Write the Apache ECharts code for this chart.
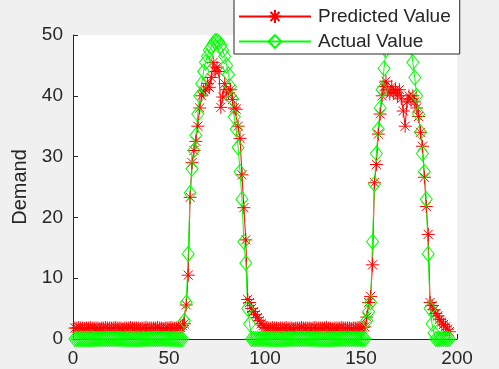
<!DOCTYPE html>
<html>
<head>
<meta charset="utf-8">
<script src="https://cdn.jsdelivr.net/npm/echarts@6/dist/echarts.min.js"></script>
<style>
  html, body { margin: 0; padding: 0; background: #f0f0f0; }
  #chart { width: 499px; height: 369px; }
</style>
</head>
<body>
<div id="chart"></div>
<script>
// x = 1..196, one value per sample
var actualValue = [
  0,0,0,0,0,0,0,0,0,0, 0,0,0,0,0,0,0,0,0,0, 0,0,0,0,0,0,0,0,0,0,
  0,0,0,0,0,0,0,0,0,0, 0,0,0,0,0,0,0,0,0,0, 0,0,0,0,0,0,0,
  3,6,14,24,28,31,33.5,37,40,42, 44,45.5,46.5,47.5,48,48.5,49,49,48.8,48.3,
  47.5,46.5,45,43.5,41.5,39.5,36.5,34.5,31.5,27.5, 23,16,12.5,5,2.5,0,
  0,0,0,0,0,0,0,0,0,0, 0,0,0,0,0,0,0,0,0,0, 0,0,0,0,0,0,0,0,0,0,
  0,0,0,0,0,0,0,0,0,0, 0,0,0,0,0,0,0,0,0,0, 0,0,0,0,0,0,0,0,
  0,3,4.5,6,16,25.5,30.5,34.5,38,41, 44.5,47.5,50,52.5,54.5,56,57,57.5,57.5,57,
  56,54.5,52.5,50.5,48,45.5,43,40,37,34, 30.5,27.5,23,14,5,2.5,1,0,
  0,0,0,0,0,0,0
];
var predictedValue = [
  1.8,1.8,1.9,1.8,1.8,1.7,1.8,1.8,1.9,1.8, 1.8,1.8,1.8,1.7,1.8,1.8,1.9,1.8,1.8,1.8,
  1.8,1.9,1.8,1.8,1.8,1.7,1.8,1.8,1.8,1.9, 1.8,1.8,1.8,1.8,1.7,1.8,1.8,1.9,1.8,1.8,
  1.8,1.8,1.8,1.9,1.8,1.8,1.7,1.8,1.8,1.8, 1.9,1.8,1.8,1.8,1.8,1.9,2.2,
  2.5,5.6,10.5,23.3,29,31,32.5,35,38,40, 40.8,41,42,41.4,43,45.5,44,44.7,44,38.1,
  39.8,42,41,40.5,41,39.4,38,37.8,35,33, 27,21.6,16.3,6.5,6,5,4.5,4,3.5,3, 2.5,
  2.2,1.9,1.8,1.8,1.8,1.9,1.8,1.8,1.7,1.8, 1.8,1.8,1.9,1.8,1.8,1.8,1.7,1.8,1.8,1.8,
  1.9,1.8,1.8,1.8,1.8,1.7,1.8,1.9,1.8,1.8, 1.8,1.8,1.8,1.9,1.8,1.8,1.7,1.8,1.8,1.8,
  1.8,1.9,1.8,1.8,1.8,1.8,1.7,1.8,1.8,1.8, 1.9,1.8,1.9,
  2,3.6,6,7,12.2,25.7,28.7,33.7,37,40, 41.5,42.4,41,40.3,41.5,40.5,41,40,41,39.5,
  37.5,35,39,40,39.5,40,39,38,36.6,34, 31.7,26.6,21.8,17.2,6,5.5,4.8,4.2,3.8,3.2,
  2.8,2.4,2,1.6,1.2
];
var xTicks = { min: 0, max: 200, step: 50 };
var yTicks = { min: 0, max: 50, step: 10 };

var font = 'Liberation Sans, Arial, Helvetica, sans-serif';
var ink = '#262626';
var asterisk = 'path://M0,5L10,5M5,0L5,10M1.5,1.5L8.5,8.5M8.5,1.5L1.5,8.5';
var diamond = 'path://M5,0L10,7L5,14L0,7Z';

function pairs(arr) {
  return arr.map(function (v, i) { return [i + 1, v]; });
}

var chart = echarts.init(document.getElementById('chart'));
var option = {
  backgroundColor: '#f0f0f0',
  animation: false,
  grid: {
    left: 73, right: 42, top: 35, bottom: 30,
    show: true, backgroundColor: '#ffffff', borderWidth: 0,
    outerBoundsMode: 'none'
  },
  legend: {
    orient: 'vertical',
    left: 234,
    top: -4,
    padding: [11, 9, 3, 4],
    itemWidth: 72,
    itemHeight: 16,
    itemGap: 6,
    backgroundColor: '#ffffff',
    borderColor: ink,
    borderWidth: 1,
    textStyle: { fontSize: 19, color: ink, fontFamily: font, padding: [0, 0, 0, 2] },
    data: ['Predicted Value', 'Actual Value']
  },
  xAxis: {
    type: 'value',
    min: xTicks.min, max: xTicks.max, interval: xTicks.step,
    axisLine: { show: true, lineStyle: { color: ink, width: 1 } },
    axisTick: { show: true, inside: true, length: 5, lineStyle: { color: ink } },
    axisLabel: { fontSize: 19, color: ink, fontFamily: font, margin: 10 },
    splitLine: { show: false }
  },
  yAxis: {
    type: 'value',
    min: yTicks.min, max: yTicks.max, interval: yTicks.step,
    name: 'Demand',
    nameLocation: 'middle',
    nameGap: 41,
    nameTextStyle: { fontSize: 20, color: ink, fontFamily: font },
    axisLine: { show: true, lineStyle: { color: ink, width: 1 } },
    axisTick: { show: true, inside: true, length: 5, lineStyle: { color: ink } },
    axisLabel: { fontSize: 19, color: ink, fontFamily: font, margin: 10 },
    splitLine: { show: false }
  },
  series: [
    {
      name: 'Predicted Value',
      type: 'line',
      data: pairs(predictedValue),
      symbol: asterisk,
      symbolSize: 13,
      showSymbol: true,
      showAllSymbol: true,
      clip: true,
      silent: true,
      lineStyle: { color: '#ff0000', width: 1 },
      itemStyle: { color: 'rgba(0,0,0,0)', borderColor: '#ff0000', borderWidth: 1 },
      emphasis: { disabled: true }
    },
    {
      name: 'Actual Value',
      type: 'line',
      data: pairs(actualValue),
      symbol: diamond,
      symbolSize: [12, 15],
      showSymbol: true,
      showAllSymbol: true,
      clip: true,
      silent: true,
      lineStyle: { color: '#00ff00', width: 1 },
      itemStyle: { color: 'rgba(0,0,0,0)', borderColor: '#00ff00', borderWidth: 1 },
      emphasis: { disabled: true }
    }
  ]
};
chart.setOption(option);
</script>
</body>
</html>
